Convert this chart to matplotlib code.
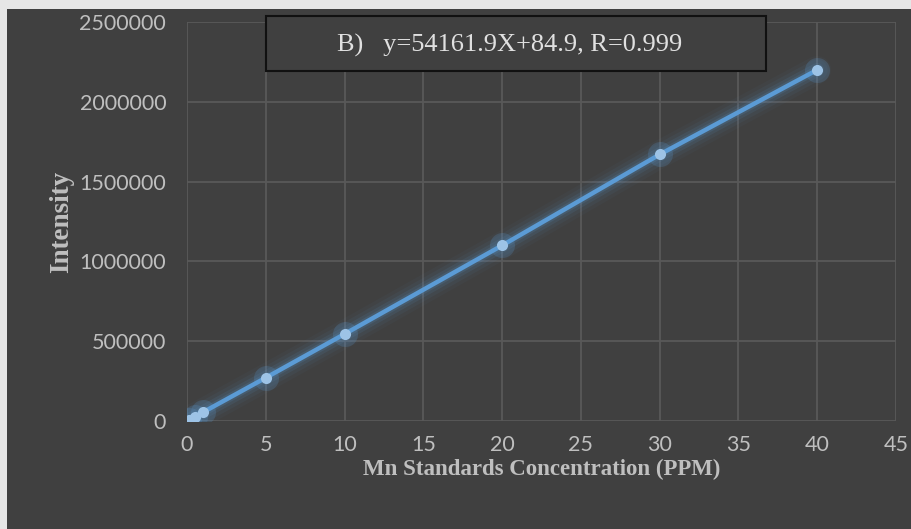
import matplotlib
matplotlib.use("Agg")
import matplotlib.pyplot as plt
from matplotlib.patches import Rectangle
import numpy as np

conc = [0.1, 0.5, 1, 5, 10, 20, 30, 40]
intensity = [5500, 27000, 54000, 271000, 545000, 1100000, 1670000, 2200000]
x_ticks = [0, 5, 10, 15, 20, 25, 30, 35, 40, 45]
y_ticks = [0, 500000, 1000000, 1500000, 2000000, 2500000]
eq_text = "B)   y=54161.9X+84.9, R=0.999"
x_label = "Mn Standards Concentration (PPM)"
y_label = "Intensity"

bg = "#404040"
txt = "#bfbfbf"
grid = "#595959"

fig = plt.figure(figsize=(9.12, 5.29), dpi=100)
fig.patch.set_facecolor("#e6e6e6")
fig.patches.append(Rectangle((7/912, 0), 1, 1 - 9/529, transform=fig.transFigure,
                             facecolor=bg, edgecolor="none", zorder=-10))

ax = fig.add_axes([187/912, 1 - 421/529, (896 - 187)/912, (421 - 22)/529])
ax.set_facecolor(bg)
ax.set_xlim(0, 45)
ax.set_ylim(0, 2500000)
ax.set_xticks(x_ticks)
ax.set_yticks(y_ticks)
ax.set_xticklabels([str(t) for t in x_ticks], family="Lato", fontsize=15.5, color=txt)
ax.set_yticklabels([str(t) for t in y_ticks], family="Lato", fontsize=15.5, color=txt)
ax.tick_params(length=0)
ax.tick_params(axis="x", pad=10)
ax.tick_params(axis="y", pad=15)
ax.grid(True, color=grid, linewidth=1.3)
ax.set_axisbelow(True)
for s in ax.spines.values():
    s.set_visible(False)

# glow
for lw, a in [(20, 0.04), (15, 0.06), (10, 0.1), (6, 0.15)]:
    ax.plot(conc, intensity, color="#5b9bd5", linewidth=lw, alpha=a,
            solid_capstyle="round", zorder=2)
ax.plot(conc, intensity, color="#5b9bd5", linewidth=3.2, zorder=3)
ax.plot(conc, intensity, linestyle="none", marker="o", markersize=18,
        color="#5b9bd5", alpha=0.2, markeredgewidth=0, zorder=3)
ax.plot(conc, intensity, linestyle="none", marker="o", markersize=8,
        color="#9dc3e6", markeredgewidth=0, zorder=4)

ax.set_xlabel(x_label, family="Liberation Serif", fontweight="bold",
              fontsize=16.5, color=txt, labelpad=3)
ax.set_ylabel(y_label, family="Liberation Serif", fontweight="bold",
              fontsize=19.5, color=txt, labelpad=4)

fig.patches.append(Rectangle((266/912, 1 - 71/529), 500/912, 55/529,
                             transform=fig.transFigure, facecolor=bg,
                             edgecolor="#111111", linewidth=1.5, zorder=5))
fig.text(510/912, 1 - 45/529, eq_text, family="Liberation Serif", fontsize=19,
         color="#e0e0e0", ha="center", va="center", zorder=6)

fig.savefig("out.png", dpi=100, facecolor=fig.get_facecolor())
